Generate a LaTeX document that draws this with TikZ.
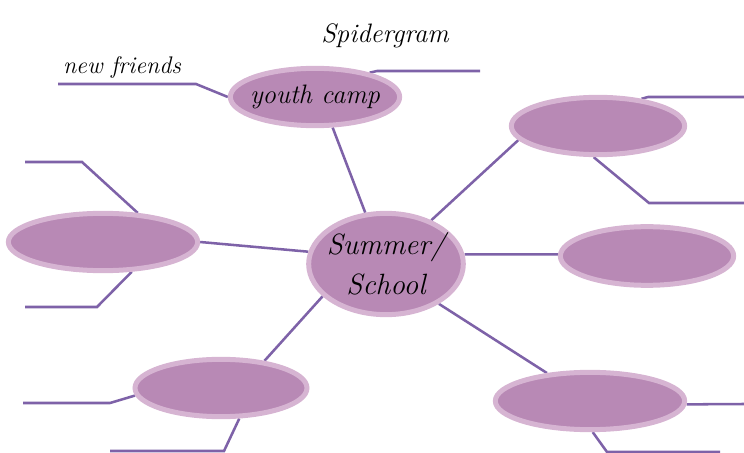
\documentclass[tikz,border=0pt]{standalone}
\usepackage{tikz}
\usetikzlibrary{shapes.geometric,backgrounds}
\usepackage{xcolor}

\definecolor{bubblefill}{HTML}{B889B5}
\definecolor{bubblerim}{HTML}{D6B4D2}
\definecolor{linkcol}{HTML}{7E62A8}

\begin{document}
\begin{tikzpicture}[x=0.75pt,y=-0.75pt,
    bubble/.style={ellipse,draw=bubblerim,fill=bubblefill,line width=3.75pt,inner sep=0pt},
    link/.style={draw=linkcol,line width=1.9pt,line join=miter},
    word/.style={font=\fontsize{20}{22}\selectfont\itshape,inner sep=0pt,align=center}]
      \useasboundingbox (0,0) rectangle (744,453);

      % Bulles
      \node[bubble,minimum width=116pt,minimum height=76pt] (sc) at (386,264) {};
      \node[bubble,minimum width=127pt,minimum height=43pt] (camp) at (315,97) {};
      \node[bubble,minimum width=130pt,minimum height=43pt] (tr) at (598,126) {};
      \node[bubble,minimum width=142pt,minimum height=43pt] (lf) at (103,242) {};
      \node[bubble,minimum width=130pt,minimum height=44pt] (rt) at (647,256) {};
      \node[bubble,minimum width=129pt,minimum height=43pt] (bl) at (221,388) {};
      \node[bubble,minimum width=142pt,minimum height=43pt] (br) at (590,401) {};

      % Bouts de lignes
      \coordinate (nfk) at (196,84);   \coordinate (nfe) at (58,84);
      \coordinate (cpk) at (377,71);   \coordinate (cpe) at (480,71);
      \coordinate (tuk) at (648,97);   \coordinate (tue) at (744,97);
      \coordinate (tdk) at (649,203);  \coordinate (tde) at (744,203);
      \coordinate (luk) at (82,162);   \coordinate (lue) at (25,162);
      \coordinate (ldk) at (97,307);   \coordinate (lde) at (25,307);
      \coordinate (blk) at (110,403);  \coordinate (ble) at (23,403);
      \coordinate (bdk) at (224,451);  \coordinate (bde) at (110,451);
      \coordinate (bre) at (744,404);
      \coordinate (bdk2) at (607,452); \coordinate (bde2) at (720,452);

      \begin{scope}[on background layer]
        \draw[link] (sc.112) -- (camp.300);
        \draw[link] (sc.44) -- (tr.190);
        \draw[link] (sc.171) -- (lf.east);
        \draw[link] (sc.7) -- (rt.179);
        \draw[link] (sc.207) -- (bl.32);
        \draw[link] (sc.323) -- (br.147);

        \draw[link] (camp.west) -- (nfk) -- (nfe);
        \draw[link] (camp.24) -- (cpk) -- (cpe);
        \draw[link] (tr.32) -- (tuk) -- (tue);
        \draw[link] (tr.262) -- (tdk) -- (tde);
        \draw[link] (lf.40) -- (luk) -- (lue);
        \draw[link] (lf.314) -- (ldk) -- (lde);
        \draw[link] (bl.185) -- (blk) -- (ble);
        \draw[link] (bl.301) -- (bdk) -- (bde);
        \draw[link] (br.358) -- (bre);
        \draw[link] (br.275) -- (bdk2) -- (bde2);
      \end{scope}

      % Textes
      \node[word] (title) at (385,36) {Spidergram};
      \node[word,font=\fontsize{18}{20}\selectfont\itshape] (nf) at (122,68) {new friends};
      \node[word] (camptxt) at (315,97) {youth camp};
      \node[word,font=\fontsize{22}{30}\selectfont\itshape] (sctxt) at (386,264) {Summer/\\School};
    \end{tikzpicture}
\end{document}
